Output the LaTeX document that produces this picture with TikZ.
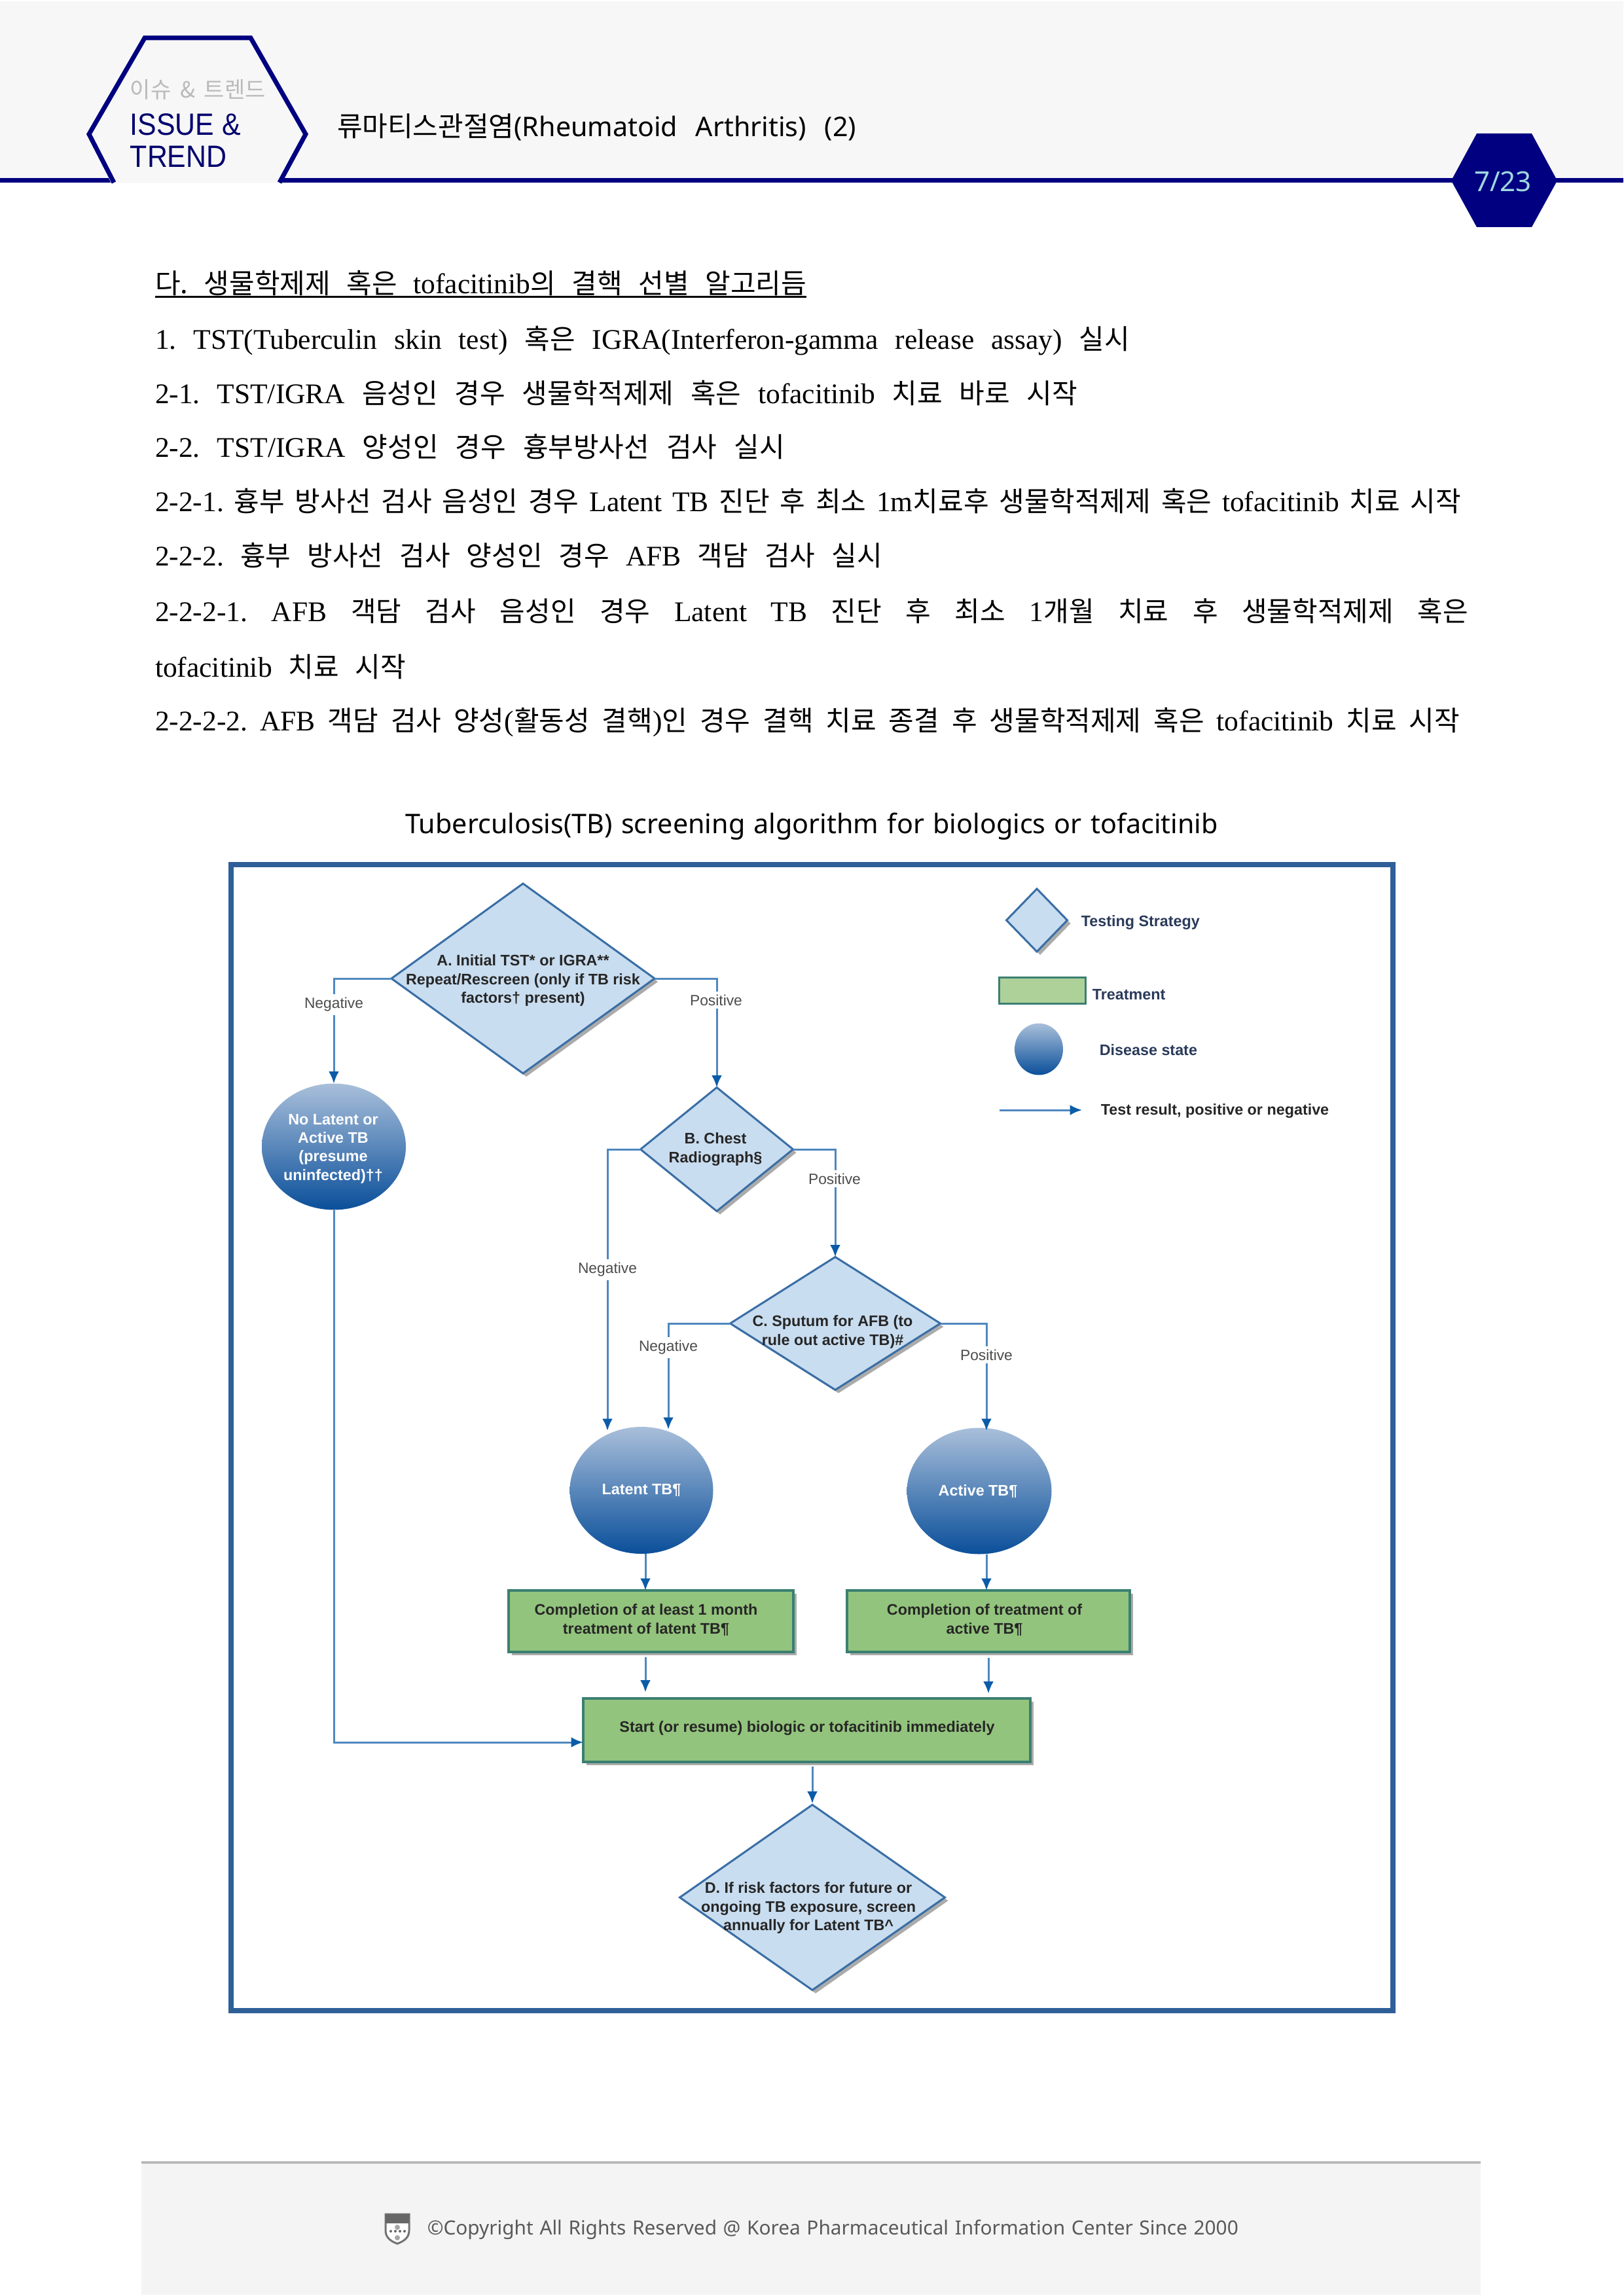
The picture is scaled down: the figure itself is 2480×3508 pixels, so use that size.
\documentclass[tikz,border=0pt]{standalone}
\usepackage{fontspec}
\usetikzlibrary{shapes.geometric,arrows.meta,shadows}
\setmainfont{Liberation Serif}
\newfontfamily\krf{Noto Sans CJK KR}
\newfontfamily\nsf{Noto Sans}
\newfontfamily\arf{Liberation Sans}
\newdimen\pu \pu=0.24pt
\newcommand\hg[1]{{\krf\fontsize{10.08}{12}\selectfont #1}}
\newcommand\hgs[1]{{\krf\fontsize{10.08}{12}\selectfont #1}}
\definecolor{navy}{HTML}{000080}
\definecolor{band}{HTML}{F7F7F7}
\definecolor{framec}{HTML}{2F5F98}
\definecolor{dfill}{HTML}{C9DDF0}
\definecolor{dline}{HTML}{3A6EA5}
\definecolor{gfill}{HTML}{93C47D}
\definecolor{gfilll}{HTML}{AED19A}
\definecolor{gline}{HTML}{3B7F72}
\definecolor{cline}{HTML}{4F88BF}
\definecolor{ctip}{HTML}{0B5CA8}
\definecolor{ctop}{HTML}{A9BFDA}
\definecolor{cbot}{HTML}{0A4F9A}
\definecolor{legtxt}{HTML}{2A3A5A}
\definecolor{pagec}{HTML}{A0D8E0}
\tikzset{
  bodytxt/.style={anchor=base west,inner sep=0pt,outer sep=0pt,font={\fontsize{10.44}{12}\selectfont\frenchspacing\spaceskip=.25em plus 8em minus .2em}},
  sanstxt/.style={anchor=base west,inner sep=0pt,outer sep=0pt,font={\nsf\fontsize{9.9}{12}\selectfont\frenchspacing\spaceskip=.26em plus 8em minus .2em}},
  dia/.style n args={2}{diamond,draw=dline,fill=dfill,line width=3\pu,inner sep=0pt,outer sep=0pt,minimum width=#1\pu,minimum height=#2\pu,drop shadow={shadow xshift=5\pu,shadow yshift=-5\pu,fill=black!55,opacity=.6}},
  dis/.style n args={2}{ellipse,draw=none,top color=ctop,bottom color=cbot,inner sep=0pt,outer sep=0pt,minimum width=#1\pu,minimum height=#2\pu},
  boxg/.style n args={2}{rectangle,draw=gline,fill=gfill,line width=4\pu,inner sep=0pt,outer sep=0pt,minimum width=#1\pu,minimum height=#2\pu,drop shadow={shadow xshift=5\pu,shadow yshift=-5\pu,fill=black!55,opacity=.6}},
  dtxt/.style={font={\arf\bfseries\fontsize{5.6}{6.6}\selectfont},text=black!85,align=center,inner sep=0pt},
  wtxt/.style={font={\arf\bfseries\fontsize{5.6}{6.6}\selectfont},text=white,align=center,inner sep=0pt},
  lbl/.style={font={\arf\fontsize{5.47}{6.6}\selectfont},text=black!70,fill=white,inner sep=1.2pt},
  legt/.style={font={\arf\bfseries\fontsize{5.6}{6.6}\selectfont},text=legtxt,anchor=west,inner sep=0pt},
  conn/.style={draw=cline,line width=3\pu,-{Latex[length=4.4pt,width=3.8pt,color=ctip]}},
}
\begin{document}
\begin{tikzpicture}[x=0.24pt,y=-0.24pt]
\useasboundingbox (0,0) rectangle (2480,3508);
% header
\fill[band] (0,2) rectangle (2480,272);
\fill[navy] (0,272) rectangle (2480,279);
\fill[band] (170,280) -- (132,205) -- (217,54) -- (387,54) -- (471,205) -- (430,280) -- cycle;
\draw[navy,line width=7\pu,miter limit=10] (174,279) -- (136,205) -- (221,58) -- (383,58) -- (467,205) -- (427,279);
\fill[navy] (2217,276) -- (2256,204) -- (2340,204) -- (2379,276) -- (2340,347) -- (2256,347) -- cycle;
\node[inner sep=0pt,anchor=base west,text=black!27,font={\krf\fontsize{8.16}{10}\selectfont\spaceskip=.2em plus 4em}] (tagk) at (198,150) {\hbox to 207\pu{이슈 \& 트렌드}};
\node[inner sep=0pt,anchor=base west,text=navy!85!black,font={\arf\fontsize{11.3}{13}\selectfont}] (tag1) at (198,207) {\scalebox{.91}[1]{ISSUE \&}};
\node[inner sep=0pt,anchor=base west,text=navy!85!black,font={\arf\fontsize{11.3}{13}\selectfont}] (tag2) at (198,256) {\scalebox{.91}[1]{TREND}};
\node[sanstxt] (title) at (515,209) {\hbox to 793\pu{\hgs{류마티스관절염}(Rheumatoid Arthritis) (2)}};
\node[inner sep=0pt,font={\nsf\bfseries\fontsize{10.1}{12}\selectfont},text=pagec] (pagenum) at (2296,277) {7/23};
% body text
\node[bodytxt] (h0) at (237,449) {\hbox to 995\pu{\hg{다.} \hg{생물학제제} \hg{혹은} tofacitinib\hg{의} \hg{결핵} \hg{선별} \hg{알고리듬}}};
\draw[black,line width=3\pu] (h0.base west |- 0,454) -- (1232,454);
\node[bodytxt] (l1) at (237,534) {\hbox to 1489\pu{1. TST(Tuberculin skin test) \hg{혹은} IGRA(Interferon-gamma release assay) \hg{실시}}};
\node[bodytxt] (l2) at (237,617) {\hbox to 1409\pu{2-1. TST/IGRA \hg{음성인} \hg{경우} \hg{생물학적제제} \hg{혹은} tofacitinib \hg{치료} \hg{바로} \hg{시작}}};
\node[bodytxt] (l3) at (237,699) {\hbox to 962\pu{2-2. TST/IGRA \hg{양성인} \hg{경우} \hg{흉부방사선} \hg{검사} \hg{실시}}};
\node[bodytxt] (l4) at (237,782) {\hbox to 1995\pu{2-2-1. \hg{흉부} \hg{방사선} \hg{검사} \hg{음성인} \hg{경우} Latent TB \hg{진단} \hg{후} \hg{최소} 1m\hg{치료후} \hg{생물학적제제} \hg{혹은} tofacitinib \hg{치료} \hg{시작}}};
\node[bodytxt] (l5) at (237,865) {\hbox to 1111\pu{2-2-2. \hg{흉부} \hg{방사선} \hg{검사} \hg{양성인} \hg{경우} AFB \hg{객담} \hg{검사} \hg{실시}}};
\node[bodytxt] (l6) at (237,950) {\hbox to 2006\pu{2-2-2-1. AFB \hg{객담} \hg{검사} \hg{음성인} \hg{경우} Latent TB \hg{진단} \hg{후} \hg{최소} 1\hg{개월} \hg{치료} \hg{후} \hg{생물학적제제} \hg{혹은}}};
\node[bodytxt] (l7) at (237,1034) {\hbox to 383\pu{tofacitinib \hg{치료} \hg{시작}}};
\node[bodytxt] (l8) at (237,1116) {\hbox to 1993\pu{2-2-2-2. AFB \hg{객담} \hg{검사} \hg{양성}(\hg{활동성} \hg{결핵})\hg{인} \hg{경우} \hg{결핵} \hg{치료} \hg{종결} \hg{후} \hg{생물학적제제} \hg{혹은} tofacitinib \hg{치료} \hg{시작}}};
\node[sanstxt] (cap) at (619,1273) {\hbox to 1242\pu{Tuberculosis(TB) screening algorithm for biologics or tofacitinib}};
% frame
\draw[framec,line width=8\pu] (353,1321) rectangle (2128,3072);
% decision and state shapes
\node[dia={402}{290}] (A) at (799,1495) {};
\node[dtxt] (Atxt) at (799,1498) {A. Initial TST* or IGRA**\\[0.15pt]Repeat/Rescreen (only if TB risk\\[0.15pt]factors† present)};
\node[dis={220}{193}] (nolat) at (510,1752) {};
\node[wtxt] (nolattxt) at (509,1755) {No Latent or\\[0.2pt]Active TB\\[0.2pt](presume\\[0.2pt]uninfected)††};
\node[dia={233}{189}] (B) at (1095,1756) {};
\node[dtxt] (Btxt) at (1093,1756) {B. Chest\\[0.4pt]Radiograph§};
\node[dia={321}{203}] (C) at (1276,2022) {};
\node[dtxt] (Ctxt) at (1272,2035) {C. Sputum for AFB (to\\[0.4pt]rule out active TB)\#};
\node[dis={219}{194}] (latent) at (980,2277) {};
\node[wtxt] (latenttxt) at (980,2277) {Latent TB¶};
\node[dis={221}{193}] (active) at (1496,2278) {};
\node[wtxt] (activetxt) at (1494,2279) {Active TB¶};
\node[boxg={435}{94}] (boxL) at (994.5,2477) {};
\node[dtxt] (boxLt) at (987,2475) {Completion of at least 1 month\\[0.2pt]treatment of latent TB¶};
\node[boxg={432}{94}] (boxR) at (1510,2477) {};
\node[dtxt] (boxRt) at (1504,2475) {Completion of treatment of\\[0.2pt]active TB¶};
\node[boxg={683}{97}] (start) at (1232.5,2643) {};
\node[dtxt] (startt) at (1233,2640) {Start (or resume) biologic or tofacitinib immediately};
\node[dia={405}{283}] (D) at (1241,2899) {};
\node[dtxt] (Dtxt) at (1235,2915) {D. If risk factors for future or\\[0.2pt]ongoing TB exposure, screen\\[0.2pt]annually for Latent TB\textasciicircum};
% named x positions where connectors meet the shapes
\coordinate (xB) at (928,2186);
\coordinate (xC) at (1021,2184);
\coordinate (xP) at (1507,2186);
\coordinate (xL) at (986,2500);
\coordinate (xR) at (1507,2500);
\coordinate (xS) at (1510,2500);
% connectors
\draw[conn] (A.west) -| (nolat.north);
\draw[conn] (A.east) -| (B.north);
\draw[conn] (B.west) -| (xB);
\draw[conn] (B.east) -| (C.north);
\draw[conn] (C.west) -| (xC);
\draw[conn] (C.east) -| (xP);
\draw[conn] (latent.south -| xL) -- (boxL.north -| xL);
\draw[conn] (active.south -| xR) -- (boxR.north -| xR);
\draw[conn,shorten <=8\pu,shorten >=9\pu] (boxL.south -| xL) -- (start.north -| xL);
\draw[conn,shorten <=9\pu,shorten >=7\pu] (boxR.south -| xS) -- (start.north -| xS);
\draw[conn,shorten <=7\pu,shorten >=2\pu] (start.south -| D.north) -- (D.north);
\coordinate (stin) at (891,2662);
\draw[conn] (nolat.south) |- (stin);
% connector labels
\node[lbl] (n1) at (510,1535) {Negative};
\node[lbl] (p1) at (1094,1528) {Positive};
\node[lbl] (n2) at (928,1940) {Negative};
\node[lbl] (p2) at (1275,1801) {Positive};
\node[lbl] (n3) at (1021,2059) {Negative};
\node[lbl] (p3) at (1507,2070) {Positive};
% legend
\node[dia={93}{96}] (legD) at (1584,1406) {};
\node[legt] (legDt) at (1651,1410) {Testing Strategy};
\node[rectangle,draw=gline,fill=gfilll,line width=3\pu,inner sep=0pt,outer sep=0pt,minimum width=132\pu,minimum height=40\pu] (legR) at (1592,1513) {};
\node[legt] (legRt) at (1668,1520) {Treatment};
\node[dis={74}{79}] (legC) at (1587,1603) {};
\node[legt] (legCt) at (1679,1604) {Disease state};
\coordinate (legA) at (1527,1696);
\coordinate (legB) at (1653,1696);
\draw[conn] (legA) -- (legB);
\node[legt,text=black!85] (legAt) at (1681,1698) {Test result, positive or negative};
% footer
\fill[black!4.5] (216,3306) rectangle (2262,3506);
\fill[black!27] (216,3302) rectangle (2262,3306);
\filldraw[fill=white,draw=black!55,line width=3\pu] (589,3383) -- (625,3383) -- (625,3408) .. controls (625,3420) and (615,3425) .. (607,3428) .. controls (599,3425) and (589,3420) .. (589,3408) -- cycle;
\fill[black!60] (589,3383) rectangle (625,3397);
\foreach \dx in {597,604,611,618}{\fill[black!60] (\dx,3409) circle (2);}
\fill[black!35] (607,3403) circle (4);
\fill[black!35] (607,3419) circle (4);
\node[anchor=west,inner sep=0pt,text=black!65,font={\nsf\fontsize{7.15}{10}\selectfont}] (foot) at (652,3407) {\hbox to 1239\pu{©Copyright All Rights Reserved @ Korea Pharmaceutical Information Center Since 2000}};
\end{tikzpicture}
\end{document}
